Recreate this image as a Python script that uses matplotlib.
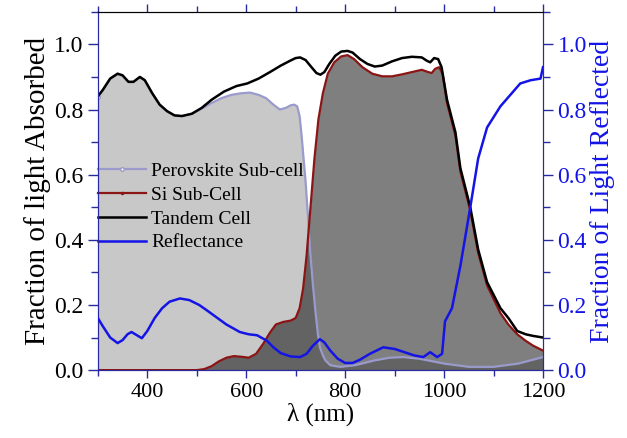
import numpy as np
import matplotlib.pyplot as plt
from matplotlib.ticker import MultipleLocator

plt.rcParams['font.family'] = ['Liberation Serif', 'DejaVu Serif']

# tandem cell absorption
tandem_x = [300, 310, 325, 340, 350, 362, 372, 385, 395, 410, 425, 440, 455, 470, 490, 510, 530,
            555, 580, 602, 625, 648, 670, 689, 700, 709, 720, 732, 742, 750, 758, 768, 780, 792,
            805, 815, 830, 845, 860, 875, 895, 915, 935, 955, 965, 972, 980, 988, 995, 1006,
            1023, 1033, 1053, 1069, 1087, 1114, 1130, 1148, 1165, 1180, 1200]
tandem_y = [0.84, 0.86, 0.895, 0.91, 0.905, 0.885, 0.885, 0.90, 0.89, 0.85, 0.815, 0.795, 0.782,
            0.78, 0.787, 0.805, 0.83, 0.855, 0.872, 0.88, 0.895, 0.915, 0.935, 0.95, 0.958, 0.96,
            0.952, 0.93, 0.912, 0.907, 0.915, 0.94, 0.965, 0.978, 0.98, 0.975, 0.955, 0.94,
            0.932, 0.935, 0.948, 0.958, 0.962, 0.96, 0.95, 0.945, 0.958, 0.955, 0.93, 0.83,
            0.73, 0.62, 0.50, 0.37, 0.27, 0.19, 0.16, 0.12, 0.11, 0.105, 0.10]

# Si sub-cell absorption
si_x = [300, 500, 515, 530, 545, 560, 575, 590, 605, 620, 634, 648, 660, 675, 690, 700, 708, 715,
        722, 730, 738, 746, 755, 765, 778, 792, 805, 818, 835, 855, 875, 895, 915, 935, 955, 968,
        975, 982, 990, 997, 1006, 1023, 1033, 1053, 1069, 1087, 1114, 1130, 1148, 1165, 1180,
        1200]
si_y = [0.0, 0.0, 0.003, 0.012, 0.027, 0.038, 0.043, 0.041, 0.038, 0.05, 0.08, 0.115, 0.14, 0.148,
        0.152, 0.16, 0.19, 0.25, 0.35, 0.50, 0.65, 0.77, 0.85, 0.91, 0.945, 0.963, 0.967, 0.955,
        0.93, 0.91, 0.902, 0.902, 0.908, 0.915, 0.922, 0.915, 0.912, 0.925, 0.93, 0.91, 0.82,
        0.72, 0.61, 0.49, 0.36, 0.26, 0.175, 0.14, 0.11, 0.09, 0.075, 0.06]

# perovskite sub-cell absorption
pero_x = [300, 310, 325, 340, 350, 362, 372, 385, 395, 410, 425, 440, 455, 470, 490, 513, 530,
          550, 570, 590, 608, 625, 640, 655, 668, 680, 690, 697, 703, 708, 712, 716, 720, 725,
          729, 735, 740, 745, 749, 755, 760, 770, 790, 820, 860, 890, 917, 950, 1000, 1050,
          1100, 1150, 1200]
pero_y = [0.84, 0.86, 0.895, 0.91, 0.905, 0.885, 0.885, 0.90, 0.89, 0.85, 0.815, 0.795, 0.782,
          0.78, 0.787, 0.805, 0.82, 0.835, 0.845, 0.85, 0.852, 0.845, 0.835, 0.815, 0.80, 0.805,
          0.813, 0.815, 0.81, 0.78, 0.72, 0.65, 0.58, 0.47, 0.37, 0.26, 0.18, 0.11, 0.07, 0.045,
          0.03, 0.015, 0.01, 0.015, 0.03, 0.038, 0.04, 0.035, 0.02, 0.01, 0.01, 0.02, 0.04]

# reflectance
refl_x = [300, 310, 325, 340, 350, 360, 368, 378, 389, 400, 415, 430, 445, 466, 485, 505, 520,
          540, 560, 587, 605, 622, 642, 655, 670, 690, 709, 722, 735, 749, 758, 770, 785, 800,
          815, 830, 850, 877, 900, 920, 940, 958, 972, 986, 996, 1002, 1016, 1033, 1053, 1069,
          1087, 1114, 1134, 1154, 1175, 1195, 1200]
refl_y = [0.16, 0.135, 0.10, 0.083, 0.092, 0.11, 0.117, 0.108, 0.098, 0.12, 0.16, 0.19, 0.21,
          0.22, 0.215, 0.20, 0.184, 0.162, 0.14, 0.117, 0.11, 0.107, 0.09, 0.07, 0.052, 0.042,
          0.04, 0.05, 0.075, 0.095, 0.085, 0.06, 0.035, 0.022, 0.022, 0.032, 0.05, 0.07, 0.065,
          0.055, 0.045, 0.04, 0.055, 0.04, 0.05, 0.15, 0.19, 0.32, 0.50, 0.65, 0.745, 0.81,
          0.845, 0.88, 0.89, 0.895, 0.93]

navy = '#2a2aa0'
blue = '#1414e6'

fig, ax = plt.subplots(figsize=(6.27, 4.38), dpi=100)
fig.subplots_adjust(left=0.156, right=0.866, top=0.973, bottom=0.155)

ax.fill_between(pero_x, pero_y, 0, color='#c8c8c8', lw=0, zorder=1)
ax.fill_between(si_x, si_y, 0, color='black', alpha=0.5, lw=0, zorder=2)

ax.plot(pero_x, pero_y, color='#9a9acc', lw=1.6, marker='o', ms=2.5, mfc='white', mec='#9a9acc',
        markevery=[0], label='Perovskite Sub-cell', zorder=3)
ax.plot(si_x, si_y, color='#8b1414', lw=1.6, marker='.', ms=3, markevery=[0],
        label='Si Sub-Cell', zorder=4)
ax.plot(tandem_x, tandem_y, color='black', lw=1.8, label='Tandem Cell', zorder=5)

ax2 = ax.twinx()
ax2.plot(refl_x, refl_y, color=blue, lw=1.8, zorder=6)
ax.plot([], [], color=blue, lw=1.8, label='Reflectance')

ax.set_xlim(300, 1200)
ax.set_ylim(0, 1.1)
ax2.set_ylim(0, 1.1)

ax.xaxis.set_major_locator(MultipleLocator(200))
ax.xaxis.set_minor_locator(MultipleLocator(100))
ax.yaxis.set_major_locator(MultipleLocator(0.2))
ax.yaxis.set_minor_locator(MultipleLocator(0.1))
ax2.yaxis.set_major_locator(MultipleLocator(0.2))
ax2.yaxis.set_minor_locator(MultipleLocator(0.1))
ax.yaxis.set_major_formatter(lambda v, p: f'{v:.1f}')
ax2.yaxis.set_major_formatter(lambda v, p: f'{v:.1f}')

ax.tick_params(axis='x', which='both', direction='out', top=True, labelsize=16, colors='black')
ax.tick_params(axis='x', which='major', length=6, width=1, color=navy)
ax.tick_params(axis='x', which='minor', length=4, width=1, color=navy)
ax.tick_params(axis='y', which='both', direction='out', labelsize=17, color=navy, width=1)
ax.tick_params(axis='y', which='major', length=7)
ax.tick_params(axis='y', which='minor', length=5)
ax2.tick_params(axis='y', which='both', direction='out', labelsize=17, color=navy,
                labelcolor=blue, width=1)
ax2.tick_params(axis='y', which='major', length=7)
ax2.tick_params(axis='y', which='minor', length=5)

for s in ['left', 'right', 'bottom']:
    ax2.spines[s].set_color(navy)
    ax.spines[s].set_color(navy)
ax.spines['top'].set_color('black')
ax2.spines['top'].set_color('black')

ax.set_xlabel('λ (nm)', fontsize=18, labelpad=0)
ax.set_ylabel('Fraction of light Absorbed', fontsize=21, labelpad=2)
ax2.set_ylabel('Fraction of Light Reflected', fontsize=20, color=blue, labelpad=2)

ax.legend(loc='upper left', bbox_to_anchor=(0.0, 0.58), frameon=False, fontsize=14,
          handlelength=2.5, handletextpad=0.25, labelspacing=0.32, borderaxespad=0,
          borderpad=0, numpoints=1)

fig.savefig('out.png', dpi=100)
